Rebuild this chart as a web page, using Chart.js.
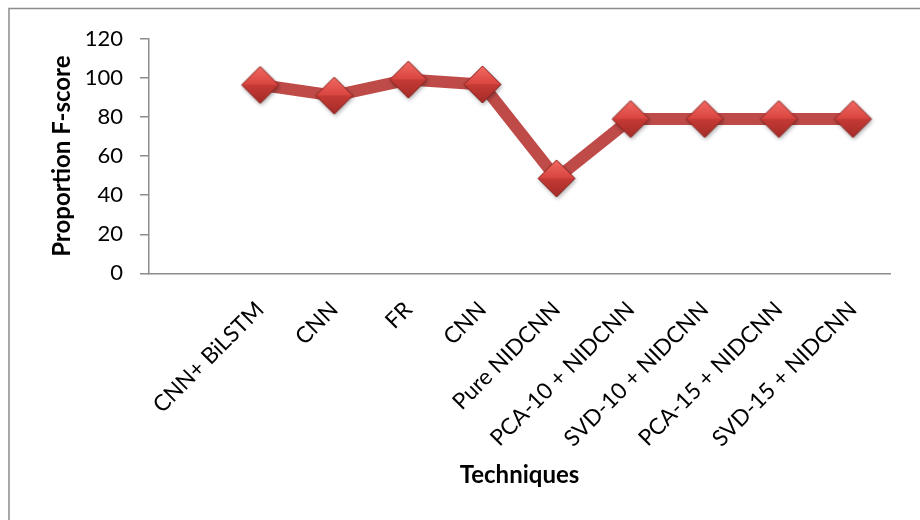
<!DOCTYPE html>
<html>
<head>
<meta charset="utf-8">
<script src="https://cdn.jsdelivr.net/npm/chart.js@4.4.0/dist/chart.umd.min.js"></script>
<style>
  html, body { margin: 0; padding: 0; background: #ffffff; }
  #wrap { width: 920px; height: 520px; position: relative; }
</style>
</head>
<body>
<div id="wrap"><canvas id="chart" width="920" height="520"></canvas></div>
<script>
// Categories along the x axis (first slot left blank)
const techniques = ['', 'CNN+ BiLSTM', 'CNN', 'FR', 'CNN', 'Pure NIDCNN',
  'PCA-10 + NIDCNN', 'SVD-10 + NIDCNN', 'PCA-15 + NIDCNN', 'SVD-15 + NIDCNN'];
// F-score per technique
const fScores = [null, 96.5, 91, 99.2, 96.7, 48.6, 79, 79, 79, 79];
// Value axis ticks
const yTicks = [0, 20, 40, 60, 80, 100, 120];

const FONT = 'Lato, "Open Sans", sans-serif';

// Bevelled red diamond used as the point marker
function makeDiamond(half) {
  const pad = 6;
  const size = Math.ceil(half * 2 + pad * 2);
  const cv = document.createElement('canvas');
  cv.width = size; cv.height = size;
  const g = cv.getContext('2d');
  const c = size / 2;
  g.save();
  g.shadowColor = 'rgba(0,0,0,0.35)';
  g.shadowBlur = 4;
  g.shadowOffsetX = 1;
  g.shadowOffsetY = 2;
  g.beginPath();
  g.moveTo(c, c - half); g.lineTo(c + half, c); g.lineTo(c, c + half); g.lineTo(c - half, c);
  g.closePath();
  g.fillStyle = '#c0403b';
  g.fill();
  g.restore();
  // upper facet
  let gr = g.createLinearGradient(0, c - half, 0, c);
  gr.addColorStop(0, '#f26a63');
  gr.addColorStop(1, '#d9443f');
  g.beginPath();
  g.moveTo(c, c - half); g.lineTo(c + half, c); g.lineTo(c - half, c); g.closePath();
  g.fillStyle = gr; g.fill();
  // lower facet
  gr = g.createLinearGradient(0, c, 0, c + half);
  gr.addColorStop(0, '#c63a35');
  gr.addColorStop(1, '#a42c28');
  g.beginPath();
  g.moveTo(c - half, c); g.lineTo(c + half, c); g.lineTo(c, c + half); g.closePath();
  g.fillStyle = gr; g.fill();
  // outline
  g.beginPath();
  g.moveTo(c, c - half); g.lineTo(c + half, c); g.lineTo(c, c + half); g.lineTo(c - half, c);
  g.closePath();
  g.strokeStyle = 'rgba(120,30,28,0.85)';
  g.lineWidth = 1;
  g.stroke();
  return cv;
}

// Thin grey frame round the chart
const framePlugin = {
  id: 'frame',
  beforeDraw(chart) {
    const ctx = chart.ctx;
    ctx.save();
    ctx.fillStyle = '#ffffff';
    ctx.fillRect(0, 0, chart.width, chart.height);
    ctx.strokeStyle = '#8c8c8c';
    ctx.lineWidth = 1.5;
    ctx.beginPath();
    ctx.moveTo(9, chart.height + 2);
    ctx.lineTo(9, 8.5);
    ctx.lineTo(chart.width + 2, 8.5);
    ctx.stroke();
    ctx.restore();
  }
};

function build() {
  const marker = makeDiamond(18.5);
  new Chart(document.getElementById('chart'), {
    type: 'line',
    data: {
      labels: techniques,
      datasets: [{
        data: fScores,
        borderColor: '#be4b48',
        borderWidth: 12,
        pointStyle: marker,
        pointRadius: 18,
        tension: 0,
        clip: false
      }]
    },
    options: {
      responsive: false,
      devicePixelRatio: 1,
      animation: false,
      events: [],
      layout: { padding: { left: 10, right: 18, top: 39, bottom: 10 } },
      plugins: { legend: { display: false }, tooltip: { enabled: false } },
      scales: {
        x: {
          type: 'category',
          offset: true,
          grid: { display: false, drawTicks: false },
          border: { display: true, color: '#8c8c8c', width: 1.5 },
          ticks: {
            autoSkip: false,
            maxRotation: 45,
            minRotation: 45,
            padding: 23,
            color: '#000000',
            font: { family: FONT, size: 22.5 }
          },
          title: {
            display: true,
            text: 'Techniques',
            color: '#000000',
            font: { family: FONT, size: 24, weight: 'bold' },
            padding: { top: 0, bottom: 20 }
          },
          afterFit(scale) { scale.height = 236.7; }
        },
        y: {
          min: yTicks[0],
          max: yTicks[yTicks.length - 1],
          grid: {
            display: true,
            drawOnChartArea: false,
            drawTicks: true,
            tickLength: 9,
            color: '#8c8c8c',
            lineWidth: 1.5
          },
          border: { display: true, color: '#8c8c8c', width: 1.5 },
          ticks: {
            stepSize: yTicks[1] - yTicks[0],
            padding: 17,
            color: '#000000',
            font: { family: FONT, size: 22 }
          },
          title: {
            display: true,
            text: 'Proportion F-score',
            color: '#000000',
            font: { family: FONT, size: 24, weight: 'bold' },
            padding: { top: 38, bottom: 0 }
          },
          afterFit(scale) { scale.width = 139; }
        }
      }
    },
    plugins: [framePlugin]
  });
}

Promise.all([
  document.fonts.load('22px Lato'),
  document.fonts.load('bold 24px Lato')
]).then(build, build);
</script>
</body>
</html>
